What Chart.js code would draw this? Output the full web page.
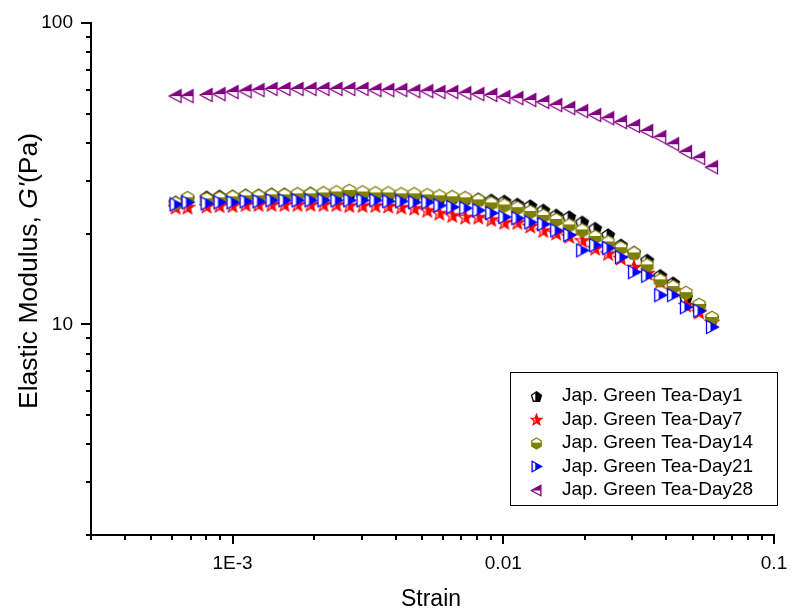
<!DOCTYPE html>
<html>
<head>
<meta charset="utf-8">
<title>Elastic Modulus vs Strain</title>
<script src="https://cdn.jsdelivr.net/npm/chart.js@4.4.1/dist/chart.umd.min.js"></script>
<style>
  html, body { margin: 0; padding: 0; background: #fff; }
  canvas { display: block; }
</style>
</head>
<body>
<canvas id="gChart" width="792" height="615"></canvas>
<script>
// strain amplitude of the sweep (same for every sample)
const strain = [
  6.16e-4, 6.82e-4, 8.02e-4, 8.95e-4, 1.000e-3, 1.117e-3, 1.247e-3, 1.393e-3,
  1.555e-3, 1.738e-3, 1.941e-3, 2.167e-3, 2.42e-3, 2.70e-3, 3.02e-3, 3.37e-3,
  3.76e-3, 4.20e-3, 4.69e-3, 5.24e-3, 5.81e-3, 6.48e-3, 7.24e-3, 8.09e-3,
  9.03e-3, 1.009e-2, 1.127e-2, 1.258e-2, 1.405e-2, 1.569e-2, 1.752e-2, 1.956e-2,
  2.185e-2, 2.44e-2, 2.72e-2, 3.04e-2, 3.40e-2, 3.80e-2, 4.24e-2, 4.73e-2,
  5.29e-2, 5.90e-2
];

// G' (Pa) for each storage day
const day1 = [
  25.4, 26.2, 26.4, 26.6, 26.6, 26.8, 26.8, 27.0, 27.0, 27.0, 27.2, 27.2, 27.2, 27.2,
  27.2, 27.0, 27.0, 26.8, 26.8, 26.6, 26.4, 26.4, 26.2, 26.0, 25.8, 25.6, 25.0, 24.7,
  23.9, 23.0, 22.7, 21.8, 20.8, 19.8, 18.3, 17.3, 16.3, 14.5, 13.7, 12.3, 11.5, 10.5
];
const day7 = [
  24.5, 24.5, 24.7, 24.8, 24.8, 25.0, 25.0, 25.0, 25.0, 25.0, 25.0, 25.0, 25.0, 24.8,
  24.8, 24.8, 24.7, 24.5, 24.3, 23.9, 23.4, 23.0, 22.7, 22.7, 22.3, 21.8, 21.8, 21.2,
  20.5, 20.1, 19.6, 19.0, 17.9, 17.2, 16.6, 15.5, 14.8, 13.9, 13.0, 11.6, 11.0, 10.2
];
const day14 = [
  25.2, 26.2, 26.0, 26.2, 26.4, 26.6, 26.6, 26.8, 26.8, 27.0, 27.0, 27.2, 27.4, 27.7,
  27.4, 27.2, 27.2, 27.0, 27.0, 26.8, 26.6, 26.4, 26.2, 25.8, 25.2, 24.8, 24.3, 23.6,
  22.9, 22.2, 21.3, 20.5, 19.5, 18.7, 17.9, 17.2, 15.7, 14.0, 13.3, 12.7, 11.6, 10.5
];
const day21 = [
  25.0, 25.4, 25.2, 25.4, 25.4, 25.6, 25.6, 25.8, 25.8, 25.8, 25.8, 25.8, 25.8, 25.8,
  25.8, 25.8, 25.6, 25.6, 25.4, 25.4, 24.8, 24.5, 24.3, 23.9, 23.4, 22.7, 22.5, 21.8,
  21.5, 20.5, 19.8, 17.6, 18.3, 17.9, 16.7, 14.9, 14.5, 12.5, 12.5, 11.4, 11.1, 9.8
];
const day28 = [
  57.2, 57.2, 57.7, 58.1, 59.0, 59.4, 59.9, 60.4, 60.4, 60.4, 60.4, 60.4, 60.4, 60.4,
  60.4, 59.9, 59.9, 59.9, 59.4, 59.4, 59.0, 59.0, 58.5, 58.1, 57.7, 56.8, 56.3, 55.5,
  54.7, 53.4, 52.2, 51.0, 49.5, 48.3, 46.9, 45.5, 43.8, 41.8, 39.6, 37.3, 35.6, 33.2
];

const seriesNames = [
  'Jap. Green Tea-Day1', 'Jap. Green Tea-Day7', 'Jap. Green Tea-Day14',
  'Jap. Green Tea-Day21', 'Jap. Green Tea-Day28'
];

// axis ticks
const xMajor = [0.001, 0.01, 0.1];
const xMajorText = ['1E-3', '0.01', '0.1'];
const xMinor = [3e-4, 4e-4, 5e-4, 6e-4, 7e-4, 8e-4, 9e-4,
  2e-3, 3e-3, 4e-3, 5e-3, 6e-3, 7e-3, 8e-3, 9e-3,
  0.02, 0.03, 0.04, 0.05, 0.06, 0.07, 0.08, 0.09];
const yMajor = [10, 100];
const yMajorText = ['10', '100'];
const yMinor = [2, 3, 4, 5, 6, 7, 8, 9, 20, 30, 40, 50, 60, 70, 80, 90];

const FONT = 'Arial, "Liberation Sans", sans-serif';

function findLabel(v, majors, texts) {
  for (let i = 0; i < majors.length; i++) {
    if (Math.abs(v - majors[i]) / majors[i] < 1e-6) return texts[i];
  }
  return '';
}

// ---- half-filled symbols drawn on small canvases ----
function polyPath(g, pts) {
  g.beginPath();
  pts.forEach((p, i) => i ? g.lineTo(p[0], p[1]) : g.moveTo(p[0], p[1]));
  g.closePath();
}

function regular(cx, cy, r, n, start) {
  const pts = [];
  for (let i = 0; i < n; i++) {
    const a = start + i * 2 * Math.PI / n;
    pts.push([cx + r * Math.cos(a), cy + r * Math.sin(a)]);
  }
  return pts;
}

function makeMarker(shape, color, half, scale) {
  const k = scale || 1;
  const size = Math.round(16 * k);
  const c = document.createElement('canvas');
  c.width = c.height = size;
  const g = c.getContext('2d');
  const cx = size / 2, cy = size / 2;
  let pts;
  if (shape === 'pentagon') pts = regular(cx, cy + 0.6 * k, 6.6 * k, 5, -Math.PI / 2);
  else if (shape === 'hexagon') pts = regular(cx, cy, 6.8 * k, 6, -Math.PI / 2);
  else if (shape === 'star') {
    pts = [];
    for (let i = 0; i < 10; i++) {
      const r = (i % 2 ? 3.0 : 7.0) * k;
      const a = -Math.PI / 2 + i * Math.PI / 5;
      pts.push([cx + r * Math.cos(a), cy + 0.6 * k + r * Math.sin(a)]);
    }
  } else if (shape === 'right') pts = [[cx - 5.5 * k, cy - 6.5 * k], [cx + 6.5 * k, cy], [cx - 5.5 * k, cy + 6.5 * k]];
  else if (shape === 'left') pts = [[cx + 5.5 * k, cy - 6.5 * k], [cx - 6.5 * k, cy], [cx + 5.5 * k, cy + 6.5 * k]];

  polyPath(g, pts);
  g.save();
  g.clip();
  g.fillStyle = '#fff';
  g.fillRect(0, 0, size, size);
  g.fillStyle = color;
  if (half === 'right') g.fillRect(cx - 1.5 * k, 0, size, size);
  else if (half === 'bottom') g.fillRect(0, cy - 1 * k, size, size);
  else if (half === 'top') g.fillRect(0, 0, size, cy);
  g.restore();
  g.lineWidth = 1.3;
  g.strokeStyle = color;
  g.lineJoin = 'miter';
  g.stroke();
  return c;
}

const markerDefs = [
  ['pentagon', '#000000', 'right'],
  ['star', '#ff0000', 'right'],
  ['hexagon', '#808000', 'bottom'],
  ['right', '#0000ff', 'right'],
  ['left', '#800080', 'top']
];
const markers = markerDefs.map(d => makeMarker(d[0], d[1], d[2], 1));
const legendMarkers = markerDefs.map(d => makeMarker(d[0], d[1], d[2], 0.8));

const values = [day1, day7, day14, day21, day28];

// ---- ticks, axis titles and the boxed legend ----
const decorations = {
  id: 'decorations',
  afterDraw(chart) {
    const { ctx, chartArea: a, scales: { x, y } } = chart;
    ctx.save();
    ctx.strokeStyle = '#000';
    ctx.lineWidth = 2;
    ctx.beginPath();
    xMinor.forEach(v => {
      const px = Math.round(x.getPixelForValue(v));
      ctx.moveTo(px, a.bottom); ctx.lineTo(px, a.bottom + 5);
    });
    xMajor.forEach(v => {
      const px = Math.round(x.getPixelForValue(v));
      ctx.moveTo(px, a.bottom); ctx.lineTo(px, a.bottom + 9);
    });
    yMinor.forEach(v => {
      const py = Math.round(y.getPixelForValue(v));
      ctx.moveTo(a.left, py); ctx.lineTo(a.left - 5, py);
    });
    yMajor.forEach(v => {
      const py = Math.round(y.getPixelForValue(v));
      ctx.moveTo(a.left, py); ctx.lineTo(a.left - 10, py);
    });
    ctx.stroke();

    // x title
    ctx.fillStyle = '#000';
    ctx.font = '23px ' + FONT;
    ctx.textAlign = 'center';
    ctx.textBaseline = 'middle';
    ctx.fillText('Strain', 431, 600);

    // y title, with G' in italics
    const parts = [
      { t: 'Elastic Modulus, ', f: '26.5px ' + FONT },
      { t: "G'", f: 'italic 26.5px ' + FONT },
      { t: '(Pa)', f: '26.5px ' + FONT }
    ];
    let total = 0;
    parts.forEach(p => { ctx.font = p.f; p.w = ctx.measureText(p.t).width; total += p.w; });
    ctx.translate(30, 271);
    ctx.rotate(-Math.PI / 2);
    ctx.textAlign = 'left';
    let pos = -total / 2;
    parts.forEach(p => { ctx.font = p.f; ctx.fillText(p.t, pos, 0); pos += p.w; });
    ctx.setTransform(1, 0, 0, 1, 0, 0);

    // legend
    const box = { l: 510, t: 372, r: 777, b: 505 };
    ctx.fillStyle = '#fff';
    ctx.fillRect(box.l, box.t, box.r - box.l, box.b - box.t);
    ctx.lineWidth = 1;
    ctx.strokeStyle = '#000';
    ctx.strokeRect(box.l + 0.5, box.t + 0.5, box.r - box.l, box.b - box.t);
    ctx.font = '19px ' + FONT;
    ctx.textAlign = 'left';
    ctx.textBaseline = 'middle';
    ctx.fillStyle = '#000';
    seriesNames.forEach((name, i) => {
      const ly = 396 + i * 23.5;
      const m = legendMarkers[i];
      ctx.drawImage(m, Math.round(536 - m.width / 2), Math.round(ly - m.height / 2));
      ctx.fillText(name, 562, ly);
    });
    ctx.restore();
  }
};

// keep the plot box fixed: no extra room for overhanging tick labels
function noPadding(s) {
  s.paddingLeft = 0; s.paddingRight = 0; s.paddingTop = 0; s.paddingBottom = 0;
}

const ctx = document.getElementById('gChart').getContext('2d');

const gChart = new Chart(ctx, {
  type: 'scatter',
  data: {
    datasets: values.map((vals, i) => ({
      label: seriesNames[i],
      data: strain.map((s, k) => ({ x: s, y: vals[k] })),
      pointStyle: markers[i],
      showLine: false,
      order: values.length - i   // later days are drawn on top
    }))
  },
  options: {
    responsive: false,
    animation: false,
    events: [],
    layout: { padding: { left: 0, right: 18, top: 23, bottom: 0 } },
    plugins: {
      legend: { display: false },
      tooltip: { enabled: false }
    },
    scales: {
      x: {
        type: 'logarithmic',
        min: 3e-4,
        max: 0.1,
        afterBuildTicks: s => { s.ticks = xMinor.concat(xMajor).sort((p, q) => p - q).map(v => ({ value: v })); },
        afterFit: s => { s.height = 80; noPadding(s); },
        grid: { display: false, drawTicks: false },
        border: { display: true, color: '#000', width: 2 },
        ticks: {
          autoSkip: false,
          maxRotation: 0,
          padding: 17,
          color: '#000',
          font: { family: FONT, size: 19 },
          callback: v => findLabel(v, xMajor, xMajorText)
        }
      },
      y: {
        type: 'logarithmic',
        min: 2,
        max: 100,
        afterBuildTicks: s => { s.ticks = yMinor.concat(yMajor).sort((p, q) => p - q).map(v => ({ value: v })); },
        afterFit: s => { s.width = 91; noPadding(s); },
        grid: { display: false, drawTicks: false },
        border: { display: true, color: '#000', width: 2 },
        ticks: {
          autoSkip: false,
          padding: 18,
          color: '#000',
          font: { family: FONT, size: 19 },
          callback: v => findLabel(v, yMajor, yMajorText)
        }
      }
    }
  },
  plugins: [decorations]
});
</script>
</body>
</html>
